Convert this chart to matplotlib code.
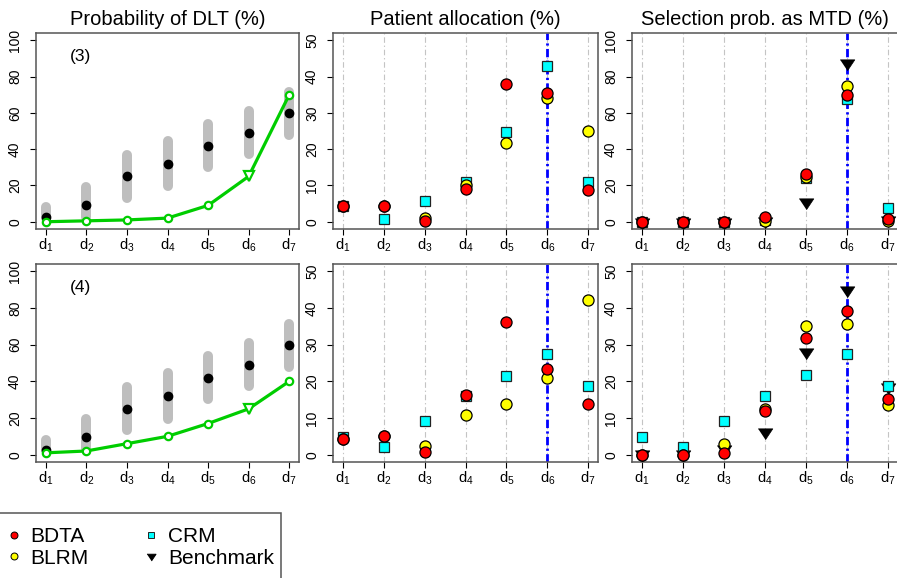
import numpy as np
import matplotlib
matplotlib.use("Agg")
import matplotlib.pyplot as plt
from matplotlib.lines import Line2D
from matplotlib.patches import Rectangle

plt.rcParams['font.family'] = ['Liberation Sans', 'DejaVu Sans']
plt.rcParams['mathtext.fontset'] = 'custom'
plt.rcParams['mathtext.rm'] = 'Liberation Sans'
plt.rcParams['mathtext.it'] = 'Liberation Sans:italic'

doses = [1, 2, 3, 4, 5, 6, 7]
dose_labels = ['$\\mathrm{d}_{%d}$' % d for d in doses]
mtd = 6

# prior summary of DLT probability (%)
prior_med = [2.5, 9.5, 25, 32, 42, 49, 60]
prior_lo = [2.3, 2.7, 13.3, 19.7, 30.1, 37.4, 48.0]
prior_hi = [7.9, 19.2, 36.7, 44.3, 53.9, 60.8, 71.3]

# true DLT probability (%)
tox3 = [0, 0.5, 1, 2, 9, 25, 70]
tox4 = [1, 2, 6, 10, 17, 25, 40]

# patient allocation (%)
bdta_alloc3 = [4.2, 4.2, 0.3, 9.1, 38.0, 35.4, 8.8]
blrm_alloc3 = [4.2, 4.2, 0.9, 10.0, 21.7, 34.0, 25.0]
crm_alloc3 = [4.2, 0.7, 5.8, 10.9, 24.6, 42.9, 10.9]
bdta_alloc4 = [4.2, 5.0, 0.7, 16.2, 36.3, 23.4, 13.8]
blrm_alloc4 = [4.2, 5.0, 2.5, 10.9, 13.9, 21.0, 42.2]
crm_alloc4 = [4.8, 2.0, 9.2, 16.0, 21.5, 27.5, 18.6]

# selection probability as MTD (%)
bdta_sel3 = [0, 0, 0, 2.4, 26.3, 70.0, 1.5]
blrm_sel3 = [0, 0, 0, 0.2, 24.5, 74.8, 0.5]
crm_sel3 = [0, 0, 0, 1.0, 24.0, 67.5, 7.3]
bench_sel3 = [0, 0, 0, 0.5, 11.1, 87.6, 0.8]
bdta_sel4 = [0, 0, 0.4, 12.0, 31.7, 39.3, 15.3]
blrm_sel4 = [0, 0, 2.8, 12.5, 35.0, 35.7, 13.5]
crm_sel4 = [4.7, 2.1, 9.2, 16.1, 21.6, 27.4, 18.6]
bench_sel4 = [0.3, 0.3, 1.5, 6.2, 28.1, 44.9, 18.4]

W, H = 897, 578
fig = plt.figure(figsize=(W / 100, H / 100), dpi=100)


def pos(l, t, r, b):
    return [l / W, 1 - b / H, (r - l) / W, (b - t) / H]


cols = [(36, 299), (333, 598), (632, 898)]
rows = [(33, 229), (264, 462)]

tri = [(-1, 0.5), (1, 0.5), (0, -1.0)]
sty = {
    'BDTA': dict(marker='o', ms=8, mfc='#FF0000', mec='black', mew=0.9),
    'BLRM': dict(marker='o', ms=8, mfc='#FFFF00', mec='black', mew=0.9),
    'CRM': dict(marker='s', ms=6.8, mfc='#00FFFF', mec='#222222', mew=0.9),
    'Benchmark': dict(marker=tri, ms=10.5, mfc='black', mec='black', mew=0.5),
}
green = '#00CD00'


def style_axes(ax, ymax, step):
    yl = ymax * 0.04
    ax.set_xlim(0.76, 7.24)
    ax.set_ylim(-yl, ymax + yl)
    ax.set_xticks(doses)
    ax.set_xticklabels(dose_labels, fontsize=10.5)
    ax.set_yticks(np.arange(0, ymax + 1, step))
    ax.tick_params(axis='y', labelsize=10, labelrotation=90, length=4, pad=6)
    ax.tick_params(axis='x', length=4, pad=1.5)
    for lab in ax.get_yticklabels():
        lab.set_va('center')
    for s in ['top', 'right', 'left', 'bottom']:
        ax.spines[s].set_color('#555555')
        ax.spines[s].set_linewidth(1.1)


def dlt_panel(ax, tox, tag):
    for i, d in enumerate(doses):
        ax.plot([d, d], [prior_lo[i], prior_hi[i]], color='#BEBEBE', lw=7.2,
                solid_capstyle='round', zorder=1)
    ax.plot(doses, prior_med, 'o', color='black', ms=6, zorder=2)
    ax.plot(doses, tox, color=green, lw=2.3, zorder=3)
    others = [i for i in range(7) if doses[i] != mtd]
    ax.plot([doses[i] for i in others], [tox[i] for i in others], 'o', ms=5.3,
            mfc='white', mec=green, mew=1.6, zorder=4)
    ax.plot([mtd], [tox[mtd - 1]], 'v', ms=7.5, mfc='white', mec=green,
            mew=1.6, zorder=4)
    ax.text(1.85, 91, tag, fontsize=12.5, ha='center', va='center')
    style_axes(ax, 100, 20)


def point_panel(ax, series, ymax, step):
    for d in doses:
        ax.axvline(d, color='#C4C4C4', lw=0.8, ls=(0, (5, 2.5, 1.2, 2.5)), zorder=0)
    ax.axvline(mtd, color='blue', lw=2, ls=(0, (3, 1.2, 0.8, 1.2)), zorder=1)
    for name in ['Benchmark', 'CRM', 'BLRM', 'BDTA']:
        if name in series:
            ax.plot(doses, series[name], ls='none', zorder=3, clip_on=False,
                    **sty[name])
    style_axes(ax, ymax, step)


titles = ['Probability of DLT (%)', 'Patient allocation (%)',
          'Selection prob. as MTD (%)']

axes = [[fig.add_axes(pos(c[0], r[0], c[1], r[1])) for c in cols] for r in rows]

dlt_panel(axes[0][0], tox3, '(3)')
dlt_panel(axes[1][0], tox4, '(4)')
point_panel(axes[0][1], {'BDTA': bdta_alloc3, 'BLRM': blrm_alloc3,
                         'CRM': crm_alloc3}, 50, 10)
point_panel(axes[1][1], {'BDTA': bdta_alloc4, 'BLRM': blrm_alloc4,
                         'CRM': crm_alloc4}, 50, 10)
point_panel(axes[0][2], {'BDTA': bdta_sel3, 'BLRM': blrm_sel3,
                         'CRM': crm_sel3, 'Benchmark': bench_sel3}, 100, 20)
point_panel(axes[1][2], {'BDTA': bdta_sel4, 'BLRM': blrm_sel4,
                         'CRM': crm_sel4, 'Benchmark': bench_sel4}, 50, 10)

for j, t in enumerate(titles):
    axes[0][j].set_title(t, fontsize=14.5, pad=6)

# legend
names = ['BDTA', 'BLRM', 'CRM', 'Benchmark']
lsz = {'BDTA': 5, 'BLRM': 5, 'CRM': 4.5, 'Benchmark': 6.5}
handles = []
for n in names:
    s = dict(sty[n])
    s['ms'] = lsz[n]
    s['mew'] = 0.7
    handles.append(Line2D([], [], ls='none', **s))
fig.legend(handles, names, ncol=2, loc='upper left',
           bbox_to_anchor=(5.2 / W, 1 - 527 / H), bbox_transform=fig.transFigure,
           frameon=False, borderaxespad=0, borderpad=0, fontsize=15,
           handlelength=0.8, handletextpad=0.42, columnspacing=2.6,
           labelspacing=0.12)
fig.add_artist(Rectangle((-3 / W, -0.1), 284 / W, (1 - 513 / H) + 0.1,
                         transform=fig.transFigure, fill=False,
                         edgecolor='#555555', lw=1.1, clip_on=False))

fig.savefig('out.png', dpi=100)
